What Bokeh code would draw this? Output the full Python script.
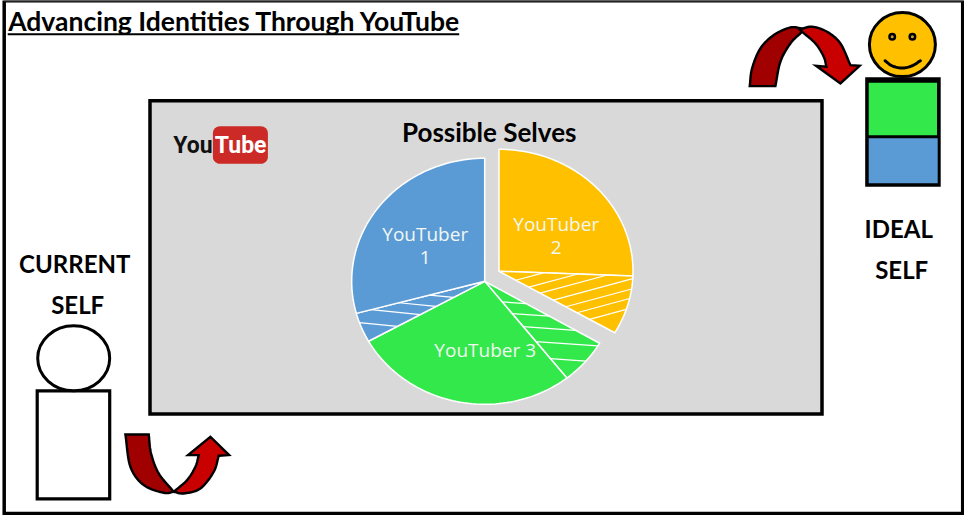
import numpy as np
from bokeh.plotting import figure
from bokeh.core.properties import value
from bokeh.embed import file_html
from bokeh.resources import INLINE

# Slice shares in percent, clockwise from twelve o'clock
slice_names = ["YouTuber 2", "YouTuber 2 shared", "YouTuber 3 shared", "YouTuber 3", "YouTuber 1 shared", "YouTuber 1"]
slice_shares = [25.6, 7.8, 6.0, 27.5, 3.9, 29.2]
slice_colors = ["#FFC000", "#FFC000", "#33E84B", "#33E84B", "#5B9BD5", "#5B9BD5"]

TITLE = "Advancing Identities Through YouTube"
CHART_TITLE = "Possible Selves"

WHITE = "#FFFFFF"
BLACK = "#000000"
DARK_RED = "#A00000"
RED = "#C80000"
HEADING_FONT = value("Lato")
LABEL_FONT = value("Open Sans")
LOGO_FONT = value("Roboto")

p = figure(width=964, height=515, x_range=(0.8, 964.8), y_range=(516.2, 1.2),
           output_backend="svg", toolbar_location=None, min_border=0,
           background_fill_color=WHITE, border_fill_color=WHITE)
p.axis.visible = False
p.grid.visible = False
p.outline_line_color = None


def smooth(points, per_segment=10):
    """Catmull-Rom curve through the given points."""
    pts = np.array(points, dtype=float)
    padded = np.vstack([2 * pts[0] - pts[1], pts, 2 * pts[-1] - pts[-2]])
    out = []
    for i in range(1, len(padded) - 2):
        a, b, c, d = padded[i - 1], padded[i], padded[i + 1], padded[i + 2]
        for t in np.linspace(0, 1, per_segment, endpoint=False):
            out.append(0.5 * (2 * b + (c - a) * t + (2 * a - 5 * b + 4 * c - d) * t ** 2
                              + (3 * b - a - 3 * c + d) * t ** 3))
    out.append(pts[-1])
    return np.array(out)


def shape(parts, origin, scale=3.0):
    """Join smooth runs and straight corners, then convert to page pixels."""
    joined = np.vstack([smooth(part) if len(part) > 2 else np.array(part, dtype=float) for part in parts])
    return joined[:, 0] / scale + origin[0], joined[:, 1] / scale + origin[1]


def rounded_box(x0, y0, x1, y1, r):
    xs, ys = [], []
    corners = [(x1 - r, y0 + r, -90), (x1 - r, y1 - r, 0), (x0 + r, y1 - r, 90), (x0 + r, y0 + r, 180)]
    for cx, cy, start in corners:
        t = np.radians(np.linspace(start, start + 90, 9))
        xs.extend(cx + r * np.cos(t))
        ys.extend(cy + r * np.sin(t))
    return xs, ys


def sector(cx, cy, rx, ry, start_pct, end_pct):
    t = np.radians(np.linspace(start_pct, end_pct, 60) * 3.6)
    return np.r_[cx, cx + rx * np.sin(t)], np.r_[cy, cy - ry * np.cos(t)]


def clip_line(xs, ys, slope, x_ref, y_ref):
    """Part of y = y_ref + slope * (x - x_ref) inside a convex polygon."""
    hits = []
    for i in range(len(xs)):
        x0, y0, x1, y1 = xs[i], ys[i], xs[(i + 1) % len(xs)], ys[(i + 1) % len(xs)]
        f0 = y0 - (y_ref + slope * (x0 - x_ref))
        f1 = y1 - (y_ref + slope * (x1 - x_ref))
        if f0 * f1 < 0:
            u = f0 / (f0 - f1)
            hits.append(x0 + u * (x1 - x0))
    if len(hits) < 2:
        return None
    a, b = min(hits), max(hits)
    return a, y_ref + slope * (a - x_ref), b, y_ref + slope * (b - x_ref)


# Page frame
p.quad(left=[4.5], right=[963], top=[1.5], bottom=[514.2], fill_color=WHITE, line_color=BLACK, line_width=3.5,
       line_join="miter")
p.segment(x0=[4.5], y0=[1.4], x1=[963], y1=[1.4], line_color="#444444", line_width=1.5)

# Heading
p.text(x=[8.5], y=[21.5], text=[TITLE], text_font=HEADING_FONT, text_font_style="bold", text_font_size="26.5px",
       text_color=BLACK, text_align="left", text_baseline="middle")
p.segment(x0=[8], y0=[35], x1=[459.5], y1=[35], line_color=BLACK, line_width=2)

# Video panel
p.quad(left=[150.3], right=[822.3], top=[101.5], bottom=[414.7], fill_color="#D9D9D9", line_color=BLACK,
       line_width=3.5, line_join="miter")
p.text(x=[489.5], y=[132.5], text=[CHART_TITLE], text_font=HEADING_FONT, text_font_style="bold", text_font_size="26px",
       text_color=BLACK, text_align="center", text_baseline="middle")

# Logo
lx, ly = rounded_box(213.2, 127, 268.2, 164.5, 7)
p.patch(lx, ly, fill_color="#CB2A26", line_color=None)
p.text(x=[213], y=[146.5], text=["You"], text_font=LOGO_FONT, text_font_style="bold",
       text_font_size="23px", text_color="#111111", text_align="right", text_baseline="middle")
p.text(x=[241], y=[146.5], text=["Tube"], text_font=LOGO_FONT, text_font_style="bold",
       text_font_size="23px", text_color=WHITE, text_align="center", text_baseline="middle")

# Pie: the YouTuber 2 slices are pulled out towards the upper right
edges = np.r_[0, np.cumsum(slice_shares)]
edges = edges / edges[-1] * 100
hatch_rules = {
    1: (-0.27, 490, [288, 298.5, 307.5, 318, 328, 337, 347]),
    2: (0.07, 490, [301.7, 312.7, 325, 339, 355]),
    4: (0.10, 345, [287.3, 298, 307.7, 321.8]),
}
for i, color in enumerate(slice_colors):
    pulled = i < 2
    cx, cy, rx, ry = (499.3, 272, 134, 122) if pulled else (485, 282, 133, 123)
    xs, ys = sector(cx, cy, rx, ry, edges[i], edges[i + 1])
    p.patch(xs, ys, fill_color=color, line_color=WHITE, line_width=1.5, line_join="round")
    if i in hatch_rules:
        slope, x_ref, offsets = hatch_rules[i]
        for y_ref in offsets:
            seg = clip_line(xs, ys, slope, x_ref, y_ref)
            if seg:
                p.segment(x0=[seg[0]], y0=[seg[1]], x1=[seg[2]], y1=[seg[3]], line_color=WHITE, line_width=1.2)

label_x = [425.5, 425.5, 556.5, 556.5, 485.5]
label_y = [234.5, 258.5, 224.5, 248.5, 350.5]
label_text = ["YouTuber", "1", "YouTuber", "2", "YouTuber 3"]
p.text(x=label_x, y=label_y, text=label_text, text_font=LABEL_FONT, text_font_size="19px",
       text_color="#F2F7F2", text_align="center", text_baseline="middle")

# Current self figure
p.quad(left=[37.5], right=[110], top=[391.5], bottom=[499.5], fill_color=WHITE, line_color=BLACK, line_width=3.2,
       line_join="miter")
p.ellipse(x=[74], y=[359], width=[72], height=[65], fill_color=WHITE, line_color=BLACK, line_width=3)
p.text(x=[75, 78], y=[264.5, 305.5], text=["CURRENT", "SELF"], text_font=HEADING_FONT, text_font_style="bold",
       text_font_size="24px", text_color=BLACK, text_align="center", text_baseline="middle")

# Ideal self figure
p.quad(left=[865.5], right=[941], top=[78], bottom=[187.5], fill_color=BLACK, line_color=None)
p.quad(left=[869], right=[937.3], top=[83.5], bottom=[136], fill_color="#33E84B", line_color=None)
p.quad(left=[869], right=[938], top=[139], bottom=[184], fill_color="#5B9BD5", line_color=None)
p.ellipse(x=[902.7], y=[45.3], width=[66], height=[64], fill_color="#FFC000", line_color=BLACK, line_width=3)
p.ellipse(x=[892.5, 912.7], y=[37.5, 37.5], width=[5.5, 5.5], height=[5.5, 5.5], fill_color="#C9A030",
          line_color=BLACK, line_width=2.5)
sx, sy = shape([[(434, 182), (455, 197), (485, 204), (515, 197), (540, 182)]], (740.7, 0.8))
p.line(sx, sy, line_color=BLACK, line_width=3, line_cap="round")
p.text(x=[899, 902], y=[229.5, 270.5], text=["IDEAL", "SELF"], text_font=HEADING_FONT, text_font_style="bold",
       text_font_size="24px", text_color=BLACK, text_align="center", text_baseline="middle")

# Upper arrow, back half then front half
ox, oy = 740.7, 0.8
ax, ay = shape([[(28, 258), (35, 205), (60, 145), (100, 105), (150, 82), (185, 85)],
                [(185, 95), (150, 130), (120, 185), (105, 258)]], (ox, oy))
p.patch(ax, ay, fill_color=DARK_RED, line_color=BLACK, line_width=2.4, line_join="miter")
ax, ay = shape([[(178, 88), (215, 80), (260, 95), (300, 130), (330, 195)],
                [(358, 197), (300, 250)], [(227, 197), (258, 200)],
                [(258, 200), (250, 170), (225, 130), (185, 95)]], (ox, oy))
p.patch(ax, ay, fill_color=RED, line_color=BLACK, line_width=2.4, line_join="miter")

# Lower arrow, back half then front half
ox, oy = 0.7, 320.8
ax, ay = shape([[(375, 343), (445, 343)], [(445, 343), (452, 400), (475, 460), (520, 515)],
                [(520, 515), (490, 518), (430, 495), (390, 440), (375, 343)]], (ox, oy))
p.patch(ax, ay, fill_color=DARK_RED, line_color=BLACK, line_width=2.4, line_join="miter")
ax, ay = shape([[(520, 515), (560, 480), (585, 440), (595, 405)], [(563, 405), (630, 350)], [(686, 405), (655, 407)],
                [(655, 407), (640, 455), (600, 505), (550, 520), (520, 515)]], (ox, oy))
p.patch(ax, ay, fill_color=RED, line_color=BLACK, line_width=2.4, line_join="miter")

open("out.html", "w").write(file_html(p, INLINE))
